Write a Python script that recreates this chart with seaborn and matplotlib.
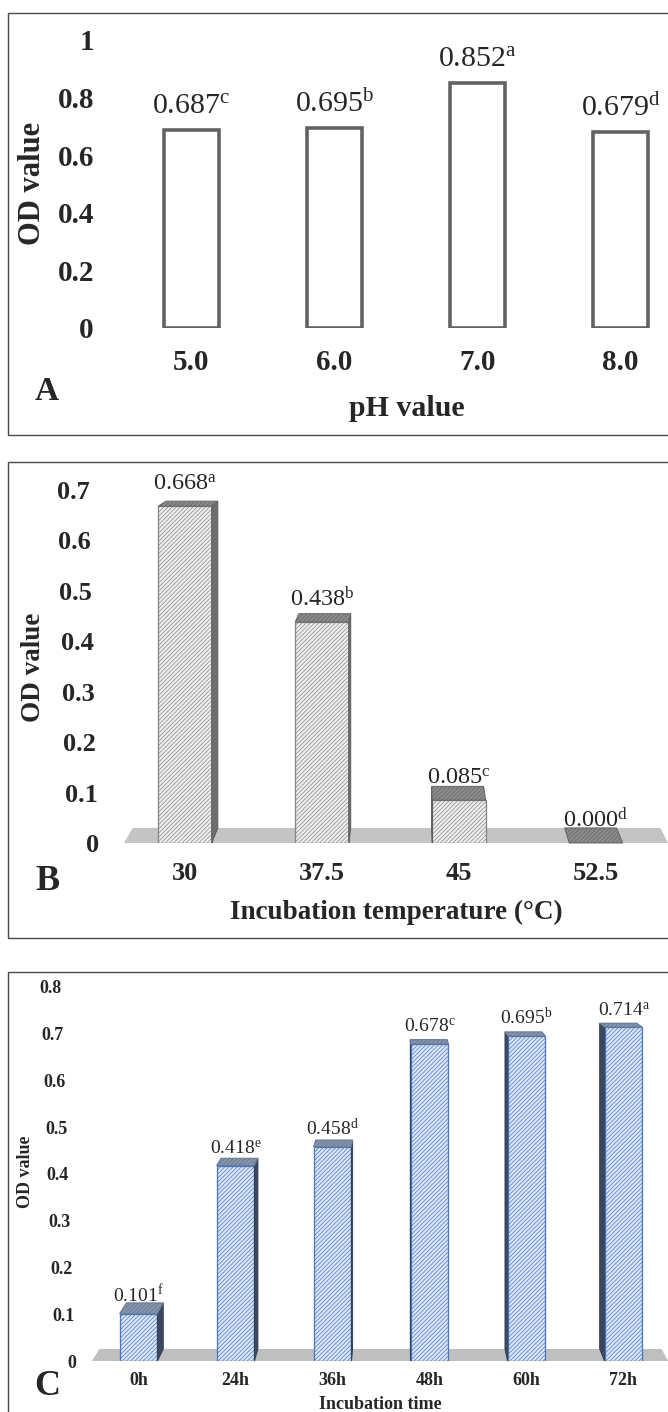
import matplotlib
matplotlib.use("Agg")
import matplotlib.pyplot as plt
import matplotlib.patches as mpatches
import matplotlib.transforms as mtransforms
import seaborn as sns
import pandas as pd

# ---------------- data ----------------
ph_labels = ["5.0", "6.0", "7.0", "8.0"]
ph_values = [0.687, 0.695, 0.852, 0.679]
ph_letters = ["c", "b", "a", "d"]

temp_labels = ["30", "37.5", "45", "52.5"]
temp_values = [0.668, 0.438, 0.085, 0.000]
temp_letters = ["a", "b", "c", "d"]

time_labels = ["0h", "24h", "36h", "48h", "60h", "72h"]
time_values = [0.101, 0.418, 0.458, 0.678, 0.695, 0.714]
time_letters = ["f", "e", "d", "c", "b", "a"]

ph_yticks = [0, 0.2, 0.4, 0.6, 0.8, 1.0]
ph_yticklabels = ["0", "0.2", "0.4", "0.6", "0.8", "1"]
temp_yticks = [0, 0.1, 0.2, 0.3, 0.4, 0.5, 0.6, 0.7]
temp_yticklabels = ["0", "0.1", "0.2", "0.3", "0.4", "0.5", "0.6", "0.7"]
time_yticks = [0, 0.1, 0.2, 0.3, 0.4, 0.5, 0.6, 0.7, 0.8]
time_yticklabels = ["0", "0.1", "0.2", "0.3", "0.4", "0.5", "0.6", "0.7", "0.8"]

# ---------------- style ----------------
W, H, DPI = 668, 1412, 100
sns.set_style("white")
plt.rcParams["font.family"] = ["Liberation Serif", "DejaVu Serif"]
plt.rcParams["mathtext.fontset"] = "custom"
plt.rcParams["mathtext.rm"] = "Liberation Serif"
plt.rcParams["mathtext.it"] = "Liberation Serif:italic"
plt.rcParams["mathtext.bf"] = "Liberation Serif:bold"
plt.rcParams["hatch.linewidth"] = 0.5

fig = plt.figure(figsize=(W / DPI, H / DPI), dpi=DPI)
fig.patch.set_facecolor("white")


def pt(p):
    return p * 72.0 / DPI


def make_axes(left, right, top, bottom):
    ax = fig.add_axes([left / W, 1 - bottom / H, (right - left) / W, (bottom - top) / H])
    ax.set_facecolor("none")
    return ax


def style_axes(ax, geo, ylim, yticks, yticklabels, fs, ypad, xpad):
    left, right, top, bottom, c0, sp = geo
    ax.set_xlim((left - c0) / sp, (right - c0) / sp)
    ax.set_ylim(*ylim)
    ax.set_yticks(yticks)
    ax.set_yticklabels(yticklabels)
    for s in ax.spines.values():
        s.set_visible(False)
    ax.tick_params(axis="both", length=0, labelsize=fs)
    ax.tick_params(axis="y", pad=pt(ypad))
    ax.tick_params(axis="x", pad=pt(xpad))
    for lab in ax.get_xticklabels() + ax.get_yticklabels():
        lab.set_fontweight("bold")
    ax.grid(False)


def set_labels(ax, geo, xlabel, xl_pos, ylabel, yl_pos, fs_x, fs_y):
    left, right, top, bottom, c0, sp = geo
    ax.set_xlabel(xlabel, fontsize=fs_x, fontweight="bold", va="baseline", ha="center")
    ax.xaxis.set_label_coords((xl_pos[0] - left) / (right - left), (bottom - xl_pos[1]) / (bottom - top))
    ax.set_ylabel(ylabel, fontsize=fs_y, fontweight="bold", va="center", ha="center")
    ax.yaxis.set_label_coords((yl_pos[0] - left) / (right - left), (bottom - yl_pos[1]) / (bottom - top))


def value_labels(ax, bars, values, letters, fs, off_px):
    for b, v, l in zip(bars, values, letters):
        cx = b.get_x() + b.get_width() / 2
        ax.annotate(f"{v:.3f}" + r"$^{\mathrm{" + l + "}}$", xy=(cx, v),
                    xytext=(0, pt(off_px)), textcoords="offset points",
                    ha="center", va="baseline", fontsize=fs, zorder=5,
                    annotation_clip=False)


def slant_yticks(ax, shift_px, vmax):
    for lab, v in zip(ax.get_yticklabels(), ax.get_yticks()):
        dx = shift_px * (1 - v / vmax)
        lab.set_transform(lab.get_transform() +
                          mtransforms.ScaledTranslation(dx / DPI, 0, fig.dpi_scale_trans))


def add_3d(ax, bars, f, v_img, top_fc, top_ec, side_fc, side_ec, floor_fc, hatch, lw):
    T = ax.transData
    inv = T.inverted()
    vx, vy = v_img[0], H - v_img[1]

    def back(p):
        return (p[0] + f * (vx - p[0]), p[1] + f * (vy - p[1]))

    x0, x1 = ax.get_xlim()
    a = T.transform((x0, 0))
    b = T.transform((x1, 0))
    floor = [a, b, back(b), back(a)]
    ax.add_patch(mpatches.Polygon(inv.transform(floor), closed=True, fc=floor_fc, ec="none",
                                  zorder=0.5, clip_on=False))
    for p in bars:
        x, w, h = p.get_x(), p.get_width(), p.get_height()
        bl = T.transform((x, 0))
        br = T.transform((x + w, 0))
        tl = T.transform((x, h))
        tr = T.transform((x + w, h))
        top = [tl, tr, back(tr), back(tl)]
        ax.add_patch(mpatches.Polygon(inv.transform(top), closed=True, fc=top_fc, ec=top_ec,
                                      hatch=hatch, lw=lw, zorder=1.2, clip_on=False))
        if h > 0:
            if vx > tr[0]:
                side = [br, tr, back(tr), back(br)]
            elif vx < tl[0]:
                side = [bl, tl, back(tl), back(bl)]
            else:
                side = None
            if side is not None:
                ax.add_patch(mpatches.Polygon(inv.transform(side), closed=True, fc=side_fc,
                                              ec=side_ec, hatch=hatch, lw=lw, zorder=1.1,
                                              clip_on=False))


def border(x0, y0, x1, y1):
    fig.add_artist(mpatches.Rectangle((x0 / W, 1 - y1 / H), (x1 - x0) / W, (y1 - y0) / H,
                                      transform=fig.transFigure, fill=False, ec="#4a4a4a",
                                      lw=pt(1.4), clip_on=False))


# ---------------- Panel A ----------------
geoA = (120, 668, 40, 328, 191.5, 143)
axA = make_axes(*geoA[:4])
dfA = pd.DataFrame({"pH": ph_labels, "OD": ph_values})
sns.barplot(data=dfA, x="pH", y="OD", order=ph_labels, ax=axA, color="white", saturation=1,
            width=0.38, edgecolor="#626262", linewidth=pt(3.6), errorbar=None)
style_axes(axA, geoA, (0, 1), ph_yticks, ph_yticklabels, 21, 26, 21)
set_labels(axA, geoA, "pH value", (407, 416), "OD value", (32, 183), 21.5, 22)
value_labels(axA, list(axA.patches), ph_values, ph_letters, 21.5, 16)
fig.text(47 / W, 1 - 400 / H, "A", ha="center", va="baseline", fontsize=24, fontweight="bold")
border(8, 13, 690, 435)

# ---------------- Panel B ----------------
geoB = (124, 668, 490, 843, 185, 137)
axB = make_axes(*geoB[:4])
dfB = pd.DataFrame({"T": temp_labels, "OD": temp_values})
sns.barplot(data=dfB, x="T", y="OD", order=temp_labels, ax=axB, color="#eeeeee", saturation=1,
            width=0.39, edgecolor="#878787", linewidth=pt(1.3), errorbar=None, hatch="////////")
barsB = list(axB.patches)
style_axes(axB, geoB, (0, 0.7), temp_yticks, temp_yticklabels, 19, 34.5, 19)
set_labels(axB, geoB, "Incubation temperature (°C)", (396, 919), "OD value", (33, 667), 19.5, 19.5)
add_3d(axB, barsB, 0.03, (415, 341), "#8c8c8c", "#666666", "#737373", "#5e5e5e", "#c4c4c4",
       "////////", pt(1.0))
value_labels(axB, barsB, temp_values, temp_letters, 17.5, 16)
slant_yticks(axB, 9.5, 0.7)
fig.text(47 / W, 1 - 890 / H, "B", ha="center", va="baseline", fontsize=26, fontweight="bold")
border(8, 462, 690, 938)

# ---------------- Panel C ----------------
geoC = (92, 668, 987, 1361, 138.5, 97)
axC = make_axes(*geoC[:4])
dfC = pd.DataFrame({"t": time_labels, "OD": time_values})
sns.barplot(data=dfC, x="t", y="OD", order=time_labels, ax=axC, color="#dae5f6", saturation=1,
            width=0.39, edgecolor="#4a78c8", linewidth=pt(1.3), errorbar=None, hatch="////////")
barsC = list(axC.patches)
style_axes(axC, geoC, (0, 0.8), time_yticks, time_yticklabels, 13, 30, 11)
set_labels(axC, geoC, "Incubation time", (380, 1409), "OD value", (26, 1172), 13, 13)
add_3d(axC, barsC, 0.024, (400, 860), "#8595ad", "#66768f", "#3e4c62", "#344156", "#bfbfbf",
       "////////", pt(1.0))
value_labels(axC, barsC, time_values, time_letters, 14, 12)
slant_yticks(axC, 14, 0.8)
fig.text(47 / W, 1 - 1395 / H, "C", ha="center", va="baseline", fontsize=26, fontweight="bold")
border(8, 972, 690, 1430)

fig.savefig("out.png", dpi=DPI)
